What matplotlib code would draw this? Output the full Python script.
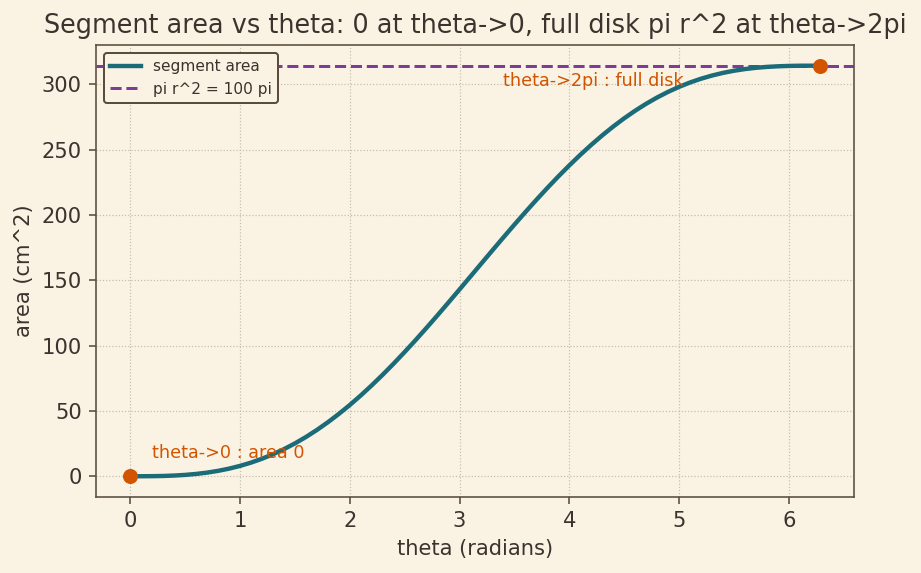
import numpy as np
import matplotlib
matplotlib.use('Agg')
import matplotlib.pyplot as plt

# values (theta in radians, area in cm^2)
theta = [0.0, 0.1, 0.2, 0.3, 0.4, 0.5, 0.6, 0.7, 0.8, 0.9, 1.0, 1.1, 1.2, 1.3,
         1.4, 1.5, 1.6, 1.7, 1.8, 1.9, 2.0, 2.1, 2.2, 2.3, 2.4, 2.5, 2.6, 2.7,
         2.8, 2.9, 3.0, 3.1, 3.2, 3.3, 3.4, 3.5, 3.6, 3.7, 3.8, 3.9, 4.0, 4.1,
         4.2, 4.3, 4.4, 4.5, 4.6, 4.7, 4.8, 4.9, 5.0, 5.1, 5.2, 5.3, 5.4, 5.5,
         5.6, 5.7, 5.8, 5.9, 6.0, 6.1, 6.2, 6.2832]
area = [0.0, 0.01, 0.07, 0.22, 0.53, 1.03, 1.77, 2.79, 4.13, 5.83, 7.93, 10.44,
        13.4, 16.82, 20.73, 25.13, 30.02, 35.42, 41.31, 47.69, 54.53, 61.84,
        69.58, 77.71, 86.23, 95.08, 104.22, 113.63, 123.25, 133.04, 142.94,
        152.92, 162.92, 172.89, 182.78, 192.54, 202.13, 211.49, 220.59, 229.39,
        237.84, 245.91, 253.58, 260.81, 267.58, 273.88, 279.68, 285.0, 289.81,
        294.12, 297.95, 301.29, 304.17, 306.61, 308.64, 310.28, 311.56, 312.53,
        313.23, 313.69, 313.97, 314.13, 314.15, 314.16]
full_disk = 314.16
end_points_x = [0.0, 6.2832]
end_points_y = [0.0, 314.16]

bg = '#faf3e3'
ink = '#3b332d'
edge = '#5a4d40'
teal = '#1b6b78'
purple = '#7d3c98'
orange = '#d35400'

plt.rcParams['font.family'] = ['DejaVu Sans']
plt.rcParams['text.color'] = ink
plt.rcParams['axes.labelcolor'] = ink
plt.rcParams['xtick.color'] = edge
plt.rcParams['ytick.color'] = edge
plt.rcParams['xtick.labelcolor'] = ink
plt.rcParams['ytick.labelcolor'] = ink

fig = plt.figure(figsize=(6.4, 3.98), dpi=144, facecolor=bg)
ax = fig.add_axes([0.104, 0.133, 0.823, 0.788], facecolor=bg)

ax.plot(theta, area, color=teal, lw=2.2, label='segment area', zorder=3)
ax.axhline(full_disk, color=purple, lw=1.5, ls='--', label='pi r^2 = 100 pi', zorder=2)
ax.plot(end_points_x, end_points_y, 'o', color=orange, ms=6.5, zorder=4)

ax.annotate('theta->0 : area 0', (end_points_x[0], end_points_y[0]),
            xytext=(11, 7), textcoords='offset points', color=orange, fontsize=8.8,
            ha='left', va='bottom')
ax.text(4.22, 299, 'theta->2pi : full disk', color=orange, fontsize=8.8,
        ha='center', va='baseline')

ax.grid(True, ls=':', lw=0.6, color='#c4bcae')
for s in ax.spines.values():
    s.set_color(edge)
ax.set_xlabel('theta (radians)', fontsize=10.5)
ax.set_ylabel('area (cm^2)', fontsize=10.5)
ax.set_title('Segment area vs theta: 0 at theta->0, full disk pi r^2 at theta->2pi',
             fontsize=12.75, color=ink)
ax.tick_params(labelsize=10.5)

leg = ax.legend(loc='upper left', fontsize=7.7, facecolor=bg, edgecolor=edge,
                framealpha=1, fancybox=True)
leg.get_frame().set_linewidth(1.0)

fig.savefig('out.png', dpi=144, facecolor=bg)
